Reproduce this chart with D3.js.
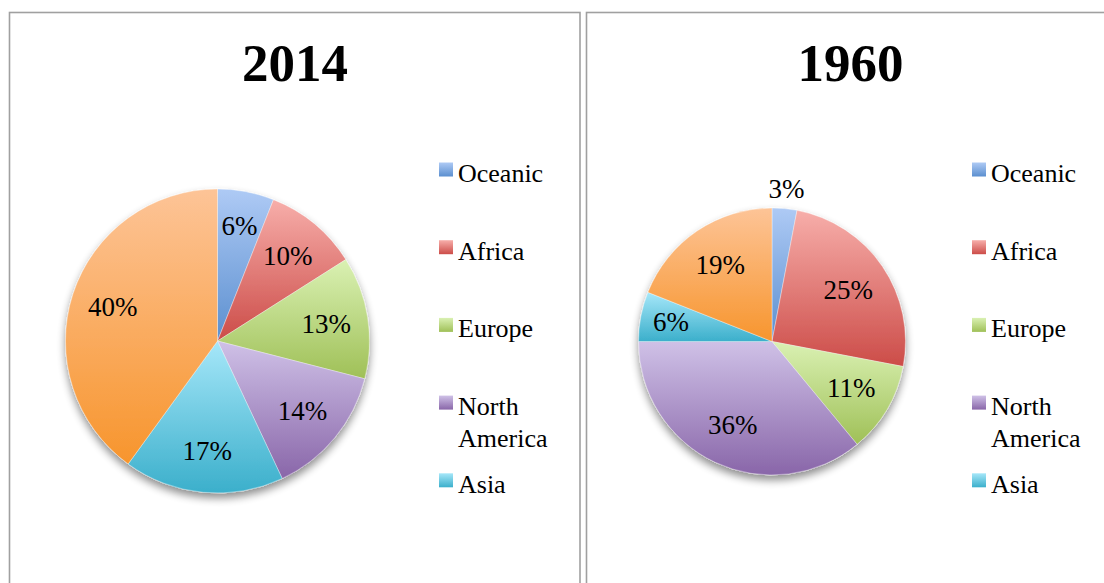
<!DOCTYPE html>
<html><head><meta charset="utf-8">
<script src="https://cdn.jsdelivr.net/npm/d3@7"></script>
<style>html,body{margin:0;padding:0;background:#fff;} svg{display:block}</style>
</head><body>
<svg id="chart" width="1104" height="583"></svg>
<script>
// ---- data ----
const categories = ["Oceanic", "Africa", "Europe", "North America", "Asia", "South America"];
const legendLabels = [["Oceanic"], ["Africa"], ["Europe"], ["North", "America"], ["Asia"]];
const titles = ["2014", "1960"];
const values2014 = [6, 10, 13, 14, 17, 40];
const values1960 = [3, 25, 11, 36, 6, 19];

// ---- style ----
const colorTop    = ["#aecaf5", "#f7aeaa", "#daf1b3", "#cfc1e7", "#a6e7f9", "#fdc497"];
const colorBottom = ["#5b8fcf", "#cc4c48", "#9fc057", "#8966a9", "#3bafcb", "#f7952d"];

const svg = d3.select("#chart");
const defs = svg.append("defs");

categories.forEach((c, i) => {
  const g = defs.append("linearGradient").attr("id", "grad" + i)
    .attr("x1", 0).attr("y1", 0).attr("x2", 0).attr("y2", 1);
  g.append("stop").attr("offset", "0%").attr("stop-color", colorTop[i]);
  g.append("stop").attr("offset", "100%").attr("stop-color", colorBottom[i]);
});

const f = defs.append("filter").attr("id", "shadow")
  .attr("x", "-20%").attr("y", "-20%").attr("width", "140%").attr("height", "145%");
f.append("feGaussianBlur").attr("in", "SourceAlpha").attr("stdDeviation", 4).attr("result", "b");
f.append("feOffset").attr("in", "b").attr("dx", 0).attr("dy", 5).attr("result", "o");
f.append("feComponentTransfer").attr("in", "o").attr("result", "s")
  .append("feFuncA").attr("type", "linear").attr("slope", 0.45);
const fm = f.append("feMerge");
fm.append("feMergeNode").attr("in", "s");
fm.append("feMergeNode").attr("in", "SourceGraphic");

const panels = [
  { x: 9.5, w: 570.5, titleX: 295, values: values2014, title: titles[0], cx: 217.5, cy: 341, r: 152, lf: 0.725, legendX: 439 },
  { x: 586.5, w: 530, titleX: 850.5, values: values1960, title: titles[1], cx: 772, cy: 341.5, r: 133.5, lf: 0.69, legendX: 972 }
];

const FONT = "'Liberation Serif', 'Times New Roman', serif";

panels.forEach(p => {
  const g = svg.append("g");
  g.append("rect").attr("x", p.x).attr("y", 12.5).attr("width", p.w).attr("height", 620)
    .attr("fill", "#fff").attr("stroke", "#a0a0a0").attr("stroke-width", 1.6);

  g.append("text").attr("x", p.titleX).attr("y", 80.5).attr("text-anchor", "middle")
    .attr("font-family", FONT).attr("font-weight", "bold").attr("font-size", 53)
    .attr("fill", "#000").text(p.title);

  const pie = d3.pie().sort(null).value(d => d)(p.values);
  const arc = d3.arc().innerRadius(0).outerRadius(p.r);
  const pg = g.append("g").attr("transform", `translate(${p.cx},${p.cy})`);
  pg.append("g").attr("filter", "url(#shadow)")
    .selectAll("path").data(pie).join("path")
    .attr("d", arc)
    .attr("fill", (d, i) => `url(#grad${i})`)
    .attr("stroke", "rgba(255,255,255,0.6)").attr("stroke-width", 0.6);

  pg.selectAll("text.lbl").data(pie).join("text").attr("class", "lbl")
    .each(function (d) {
      let lr;
      if (d.data < 5) lr = p.r + 20;
      else if (d.data <= 6) lr = p.r * 0.77;
      else lr = p.r * p.lf;
      const c = d3.arc().innerRadius(lr).outerRadius(lr).centroid(d);
      d3.select(this).attr("x", c[0]).attr("y", c[1]);
    })
    .attr("text-anchor", "middle").attr("dominant-baseline", "central")
    .attr("font-family", FONT).attr("font-size", 27).attr("fill", "#000")
    .text(d => d.data + "%");

  // legend
  const lg = g.append("g");
  legendLabels.forEach((lines, i) => {
    const y0 = 162.5 + i * 77.7;
    lg.append("rect").attr("x", p.legendX).attr("y", y0).attr("width", 14).attr("height", 14)
      .attr("fill", `url(#grad${i})`);
    const t = lg.append("text").attr("x", p.legendX + 19).attr("y", y0 + 19.5)
      .attr("font-family", FONT).attr("font-size", 26).attr("fill", "#000");
    lines.forEach((ln, k) => {
      t.append("tspan").attr("x", p.legendX + 19).attr("dy", k === 0 ? 0 : 31.5).text(ln);
    });
  });
});
</script>
</body></html>
